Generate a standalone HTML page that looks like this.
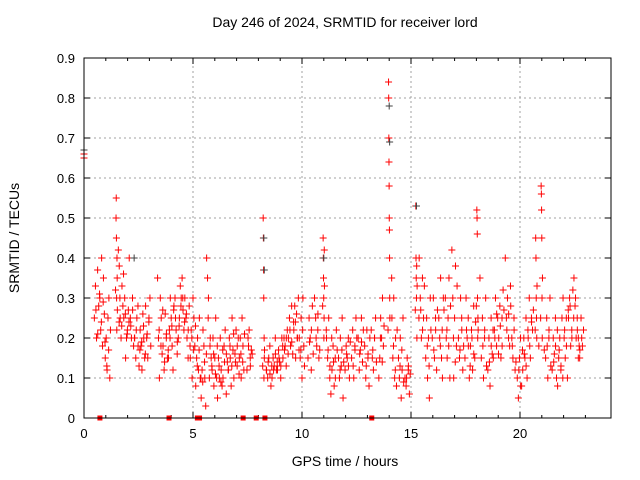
<!DOCTYPE html>
<html><head><meta charset="utf-8"><style>
body{margin:0;background:#fff}
svg{display:block;font-family:"Liberation Sans",Arial,sans-serif}
</style></head><body>
<svg id="chart" width="640" height="480" viewBox="0 0 640 480" xmlns="http://www.w3.org/2000/svg">
<rect width="640" height="480" fill="#fff"/>
<text x="345" y="27" text-anchor="middle" font-size="14">Day 246 of 2024, SRMTID for receiver lord</text>
<text x="345" y="466" text-anchor="middle" font-size="14">GPS time / hours</text>
<text transform="translate(19,238) rotate(-90)" text-anchor="middle" font-size="14">SRMTID / TECUs</text>
<g id="grid"></g>
<g id="ticks"></g>
<g id="marks"></g>
<rect x="84" y="58" width="527" height="360" fill="none" stroke="#000" stroke-width="1"/>
</svg>
<script>
const xTicks=[0,5,10,15,20];
const yTicks=[0,0.1,0.2,0.3,0.4,0.5,0.6,0.7,0.8,0.9];
const yTickLabels=["0","0.1","0.2","0.3","0.4","0.5","0.6","0.7","0.8","0.9"];
const binTimes=[0.6,0.85,1.1,1.5,1.7,1.95,2.2,2.45,2.7,2.95,3.5,3.75,4.0,4.25,4.5,4.75,5.0,5.25,5.5,5.75,
6.0,6.25,6.5,6.75,7.0,7.25,7.6,8.25,8.5,8.75,9.0,9.25,9.5,9.75,10.0,10.4,10.7,11.0,11.25,11.5,
11.8,12.1,12.4,12.7,13.0,13.3,13.65,14.0,14.25,14.55,14.85,15.25,15.5,15.8,16.1,16.4,16.7,17.0,17.3,17.6,
17.85,18.05,18.35,18.65,18.9,19.15,19.45,19.7,20.0,20.25,20.5,20.75,21.0,21.3,21.6,21.85,22.1,22.35,22.6,22.8];
const binValues=[
[0.25,0.33,0.2,0.37,0.28],[0.3,0.22,0.4,0.18,0.35,0.26],[0.15,0.2,0.12,0.25,0.3,0.1],[0.5,0.55,0.45,0.3,0.22,0.4,0.35],
[0.42,0.38,0.25,0.2,0.33,0.28],[0.25,0.3,0.15,0.2,0.22,0.27],[0.4,0.25,0.2,0.3,0.18],[0.2,0.15,0.25,0.28,0.13],
[0.22,0.18,0.12,0.26,0.2,0.15],[0.28,0.2,0.15,0.24,0.3],[0.35,0.2,0.1,0.3,0.25,0.16],[0.18,0.12,0.26,0.2,0.15],
[0.15,0.22,0.3,0.25,0.18,0.12],[0.28,0.3,0.22,0.16,0.2],[0.25,0.33,0.3,0.35,0.27,0.22],[0.3,0.25,0.2,0.15,0.28],
[0.15,0.22,0.1,0.3,0.25,0.18],[0.08,0.15,0.2,0.12,0.25,0.1],[0.05,0.12,0.22,0.18,0.1,0.03],[0.4,0.35,0.3,0.1,0.2,0.15],
[0.12,0.2,0.08,0.15,0.25,0.1],[0.05,0.15,0.1,0.2,0.12,0.08],[0.1,0.18,0.22,0.06,0.14],[0.12,0.2,0.15,0.08,0.25,0.17],
[0.1,0.16,0.22,0.13,0.2],[0.15,0.2,0.1,0.25,0.18,0.12],[0.12,0.2,0.22,0.15,0.17],[0.5,0.45,0.37,0.3,0.1,0.2,0.15],
[0.12,0.1,0.15,0.18,0.08],[0.1,0.15,0.13,0.2,0.12],[0.12,0.17,0.14,0.1,0.2],[0.15,0.2,0.18,0.13,0.22],
[0.2,0.25,0.18,0.28,0.16],[0.22,0.28,0.15,0.26,0.2,0.3],[0.2,0.15,0.25,0.1,0.3,0.18],[0.15,0.25,0.2,0.12,0.28],
[0.3,0.25,0.18,0.22,0.15],[0.45,0.4,0.35,0.3,0.2,0.25,0.42],[0.2,0.15,0.25,0.1,0.06],[0.12,0.18,0.08,0.15,0.22],
[0.15,0.1,0.2,0.13,0.25,0.05],[0.12,0.18,0.15,0.2,0.1],[0.15,0.22,0.1,0.18,0.25],[0.2,0.12,0.17,0.25,0.14],
[0.18,0.1,0.22,0.15,0.08],[0.22,0.15,0.12,0.2,0.25],[0.1,0.15,0.25,0.2,0.3,0.18],[0.84,0.8,0.7,0.64,0.58,0.5,0.47,0.4,0.3],
[0.25,0.15,0.3,0.1,0.2,0.08],[0.15,0.1,0.2,0.05,0.12,0.25],[0.1,0.08,0.15,0.12,0.06],[0.53,0.4,0.35,0.3,0.38,0.2],
[0.4,0.3,0.2,0.35,0.25],[0.15,0.25,0.1,0.2,0.05,0.3],[0.2,0.3,0.15,0.25,0.12],[0.25,0.2,0.35,0.15,0.1,0.3],
[0.3,0.2,0.15,0.25,0.35,0.1],[0.42,0.3,0.1,0.25,0.38,0.18],[0.2,0.15,0.3,0.25,0.12],[0.15,0.3,0.2,0.25,0.1],
[0.18,0.22,0.12,0.28,0.15],[0.52,0.5,0.46,0.3,0.2,0.25],[0.15,0.25,0.1,0.2,0.3],[0.12,0.2,0.08,0.25,0.16],
[0.15,0.22,0.3,0.18,0.25],[0.2,0.28,0.15,0.25,0.32],[0.4,0.25,0.3,0.2,0.18],[0.28,0.2,0.15,0.25,0.12],
[0.1,0.05,0.15,0.2,0.08],[0.12,0.2,0.15,0.25,0.1],[0.2,0.3,0.15,0.25,0.22],[0.45,0.4,0.3,0.25,0.2],
[0.58,0.56,0.52,0.45,0.3,0.2],[0.15,0.25,0.1,0.2,0.3],[0.12,0.2,0.16,0.25,0.1],[0.08,0.15,0.2,0.12,0.25],
[0.3,0.2,0.15,0.25,0.1],[0.25,0.3,0.18,0.22,0.32],[0.35,0.28,0.2,0.25,0.15],[0.2,0.15,0.25,0.18]
];
const binValues2=[
[0.27,0.21,0.31],[0.24,0.29,0.19],[0.13,0.17,0.22],[0.32,0.27,0.24],[0.3,0.23,0.36],[0.26,0.21,0.24],[0.23,0.27,0.2],[0.22,0.18,0.17],
[0.19,0.23,0.16],[0.21,0.25,0.18],[0.22,0.18,0.27],[0.14,0.21,0.17],[0.2,0.23,0.27],[0.25,0.19,0.23],[0.28,0.3,0.24],[0.26,0.22,0.18],
[0.2,0.17,0.23],[0.13,0.17,0.1],[0.09,0.14,0.16],[0.25,0.18,0.13],[0.16,0.11,0.18],[0.13,0.09,0.17],[0.14,0.16,0.12],[0.18,0.13,0.21],
[0.14,0.18,0.11],[0.16,0.14,0.21],[0.18,0.13,0.16],[0.13,0.17,0.12],[0.14,0.11,0.13],[0.12,0.16,0.14],[0.15,0.13,0.18],[0.17,0.2,0.16],
[0.22,0.19,0.24],[0.24,0.2,0.17],[0.17,0.22,0.13],[0.19,0.22,0.16],[0.2,0.26,0.17],[0.28,0.33,0.22],[0.17,0.13,0.2],[0.14,0.1,0.17],
[0.12,0.17,0.14],[0.16,0.13,0.19],[0.13,0.17,0.2],[0.16,0.19,0.22],[0.13,0.16,0.2],[0.17,0.2,0.14],[0.2,0.14,0.23],[0.22,0.25,0.35],
[0.18,0.12,0.22],[0.13,0.17,0.09],[0.1,0.13,0.11],[0.27,0.33,0.25],[0.27,0.22,0.33],[0.18,0.13,0.22],[0.17,0.22,0.27],[0.18,0.22,0.27],
[0.22,0.18,0.28],[0.2,0.14,0.33],[0.17,0.22,0.18],[0.22,0.18,0.13],[0.2,0.16,0.24],[0.28,0.22,0.35],[0.18,0.22,0.13],[0.14,0.18,0.22],
[0.2,0.26,0.16],[0.23,0.18,0.27],[0.22,0.26,0.33],[0.18,0.22,0.14],[0.12,0.08,0.17],[0.16,0.13,0.22],[0.18,0.24,0.27],[0.22,0.33,0.18],
[0.25,0.35,0.17],[0.18,0.22,0.13],[0.14,0.18,0.22],[0.17,0.13,0.1],[0.22,0.18,0.27],[0.28,0.2,0.25],[0.3,0.22,0.18],[0.17,0.2,0.22]
];
const extraTimes=[0.0,0.0];
const extraValues=[0.65,0.66];
const grayTimes=[0.0,14.0,14.02,8.25,8.27,15.25,11.0,2.3];
const grayValues=[0.67,0.78,0.69,0.45,0.37,0.53,0.4,0.4];
const zeroTimes=[0.73,3.9,5.2,5.3,7.3,7.9,8.3,13.2];

const X0=84,X1=611,Y0=418,Y1=58;
const pxPerHour=21.8;
function xs(t){return X0+t*pxPerHour;}
function ys(v){return Y0-(v/0.9)*(Y0-Y1);}
const NS="http://www.w3.org/2000/svg";
function mk(tag,attrs,parent){const e=document.createElementNS(NS,tag);for(const k in attrs)e.setAttribute(k,attrs[k]);parent.appendChild(e);return e;}
const grid=document.getElementById('grid'),ticks=document.getElementById('ticks'),marks=document.getElementById('marks');
yTicks.forEach((v,i)=>{const y=ys(v);
 if(i>0&&i<yTicks.length-1){const l=mk('line',{x1:X0,x2:X1,y1:y,y2:y,stroke:'#a0a0a0','stroke-dasharray':'2,3'},grid);}
 mk('line',{x1:X0,x2:X0+6,y1:y,y2:y,stroke:'#000'},ticks);mk('line',{x1:X1,x2:X1-6,y1:y,y2:y,stroke:'#000'},ticks);
 const t=mk('text',{x:X0-9,y:y+5,'text-anchor':'end','font-size':'13'},ticks);t.textContent=yTickLabels[i];
 });
xTicks.forEach(v=>{const x=xs(v);
 if(v>0){const l=mk('line',{x1:x,x2:x,y1:Y0,y2:Y1,stroke:'#a0a0a0','stroke-dasharray':'2,3'},grid);}
 mk('line',{x1:x,x2:x,y1:Y0,y2:Y0-6,stroke:'#000'},ticks);mk('line',{x1:x,x2:x,y1:Y1,y2:Y1+6,stroke:'#000'},ticks);
 const t=mk('text',{x:x,y:Y0+20,'text-anchor':'middle','font-size':'13'},ticks);t.textContent=String(v);
 });
for(let h=1;h<24;h++){if(h%5){const x=xs(h);mk('line',{x1:x,x2:x,y1:Y0,y2:Y0-3,stroke:'#000'},ticks);mk('line',{x1:x,x2:x,y1:Y1,y2:Y1+3,stroke:'#000'},ticks);}}
function plus(t,v,col){const x=xs(t),y=ys(v);
 const p=mk('path',{d:`M${x-3.5} ${y}h7M${x} ${y-3.5}v7`,stroke:col,'stroke-width':'1',fill:'none'},marks);
 }
const spread=0.25;
binValues.forEach((vals,b)=>{const isSpike=Math.max(...vals)>0.44;const w=isSpike?0.06:spread;
 vals.forEach((v,k)=>{const t=binTimes[b]+w*(k/vals.length-0.5);plus(t,v,'#ff0000');});});
binValues2.forEach((vals,b)=>{vals.forEach((v,k)=>{const t=binTimes[b]+spread*((k+0.5)/vals.length-0.5)+0.03;plus(t,v,'#ff0000');});});
extraTimes.forEach((t,i)=>plus(t,extraValues[i],'#ff0000'));
grayTimes.forEach((t,i)=>plus(t,grayValues[i],'#404040'));
zeroTimes.forEach(t=>{const r=mk('rect',{x:xs(t)-2.5,y:Y0-2.5,width:5,height:5,fill:'#ff0000'},marks);
 });
</script>
</body></html>
